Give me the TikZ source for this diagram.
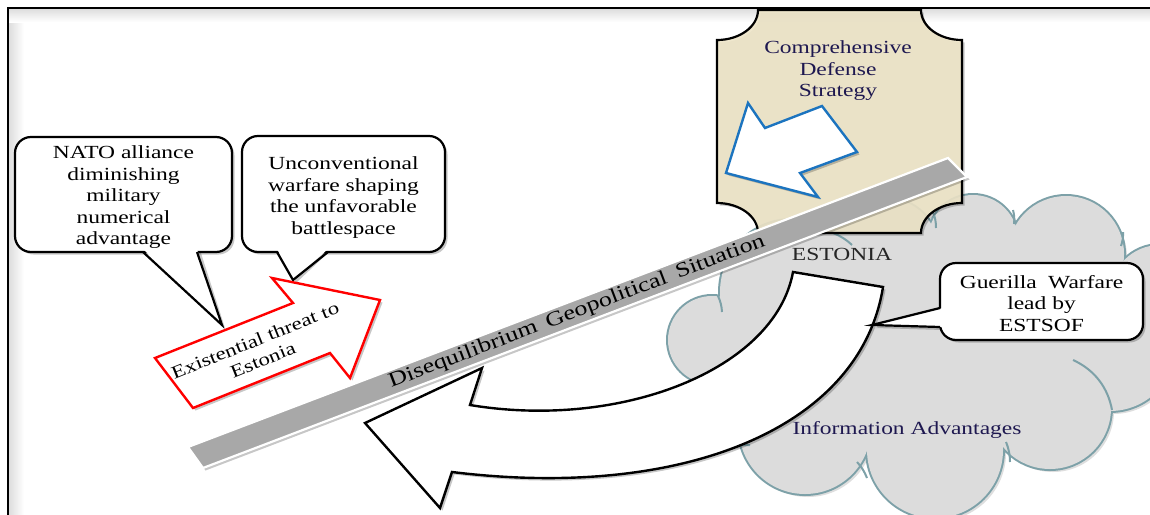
\documentclass[tikz,border=0pt]{standalone}
\usepackage{fontspec}
\setmainfont{Liberation Serif}[FakeStretch=1.27]
\usetikzlibrary{shadows}

\definecolor{cloudfill}{HTML}{DCDCDC}
\definecolor{cloudedge}{HTML}{7DA1A8}
\definecolor{plaquefill}{HTML}{EEE5C8}
\definecolor{navytext}{HTML}{1E1850}
\definecolor{bargray}{HTML}{A8A8A8}
\definecolor{arrowblue}{HTML}{1C74BF}
\definecolor{threatred}{HTML}{FF0000}

\begin{document}
\begin{tikzpicture}[x=1pt,y=-1pt,
  every node/.style={font=\fontsize{18.5}{21.5}\selectfont, align=center, inner sep=0pt},
  softshadow/.style={drop shadow={shadow xshift=2.5pt, shadow yshift=-2.5pt, opacity=0.22, fill=black}},
  tailshadow/.style={fill=black, opacity=0.22},
  calloutbox/.style={draw=black, line width=2.2pt, fill=white, rounded corners=16pt},
  callouttail/.style={draw=black, line width=2.2pt, line join=miter},
  cloudtick/.style={draw=cloudedge, line width=2pt},
  plaque/.style={draw=black, line width=2.2pt, fill=plaquefill, fill opacity=0.9},
  bigarrow/.style={line width=2.4pt, fill=white, line join=miter},
]
\useasboundingbox (0,0) rectangle (1150,514);
\clip (0,0) rectangle (1150,514);

% ---- page frame with its inner shade ----
\fill[white] (0,0) rectangle (1150,514);
\shade[left color=black!14, right color=white] (8,8) rectangle (24,520);
\shade[top color=black!14, bottom color=white] (8,8) rectangle (1160,22);
\draw[line width=2.4pt] (8,520) -- (8,8) -- (1160,8);

% ---- cloud: union of lobes ----
\def\lobes{712/340/44, 792/292/72, 885/252/54, 973/240/45, 1066/254/58,
  1160/295/50, 1110/345/66, 1050/408/61, 935/450/68, 805/428/66, 725/405/42}
\foreach \cx/\cy/\r in \lobes
  \fill[black!13] (\cx+3,\cy+3) circle[radius=\r];
\foreach \cx/\cy/\r in \lobes
  \draw[cloudedge, line width=4pt] (\cx,\cy) circle[radius=\r];
\fill[cloudfill] (712,340) -- (792,292) -- (885,252) -- (973,240) -- (1066,254)
  -- (1160,295) -- (1110,345) -- (1050,408) -- (935,450) -- (805,428) -- (725,405) -- cycle;
\foreach \cx/\cy/\r in \lobes
  \fill[cloudfill] (\cx,\cy) circle[radius=\r];
% inner strokes of the cloud
\draw[cloudtick] (718,296) to[bend left=10] (722,312);
\draw[cloudtick] (833,233) to[bend left=10] (852,245);
\draw[cloudtick] (933,212) to[bend left=10] (936,228);
\draw[cloudtick] (1013,210) to[bend left=10] (1014,224);
\draw[cloudtick] (1123,232) to[bend left=10] (1121,246);
\draw[cloudtick] (1073,360) .. controls (1095,370) and (1108,388) .. (1112,410);
\draw[cloudtick] (1006,442) to[bend left=10] (1010,462);
\draw[cloudtick] (857,462) to[bend left=10] (867,478);
\draw[cloudtick] (727,449) to[bend left=10] (750,445);

% ---- comprehensive defense plaque ----
\draw[plaque, softshadow] (758,10) -- (921,10)
  arc[start angle=180, end angle=90, x radius=41, y radius=30] -- (962,203)
  arc[start angle=270, end angle=180, x radius=41, y radius=30] -- (758,233)
  arc[start angle=0, end angle=-90, x radius=41, y radius=30] -- (717,40)
  arc[start angle=90, end angle=0, x radius=41, y radius=30] -- cycle;
\node[text=navytext] (strategy) at (838,71) {Comprehensive\\Defense\\Strategy};
\draw[bigarrow, draw=arrowblue, softshadow] (748,103) -- (765,128) -- (822,106)
  -- (857,152) -- (800,173) -- (818,197) -- (726,173) -- cycle;

% ---- diagonal bar ----
\draw[fill=bargray, draw=white, line width=2.2pt, softshadow]
  (188,447) -- (203,468) -- (967,177) -- (948,158) -- cycle;
\node[rotate=20.8, font=\fontsize{20.5}{24}\selectfont] (situation) at (577,312)
  {Disequilibrium\hspace{0.5em}Geopolitical\hspace{0.5em}Situation};

\node[text=black!85] (estonia) at (842,254) {ESTONIA};
\node[text=navytext] (info) at (907,430) {Information Advantages};

% ---- curved return arrow ----
\draw[bigarrow, softshadow] (793,272) .. controls (775,370) and (620,430) .. (470,405)
  -- (482,368) -- (365,423) -- (440,508) -- (452,472)
  .. controls (680,500) and (860,430) .. (883,287) -- cycle;

% ---- guerilla warfare callout ----
\fill[tailshadow] (943,311) -- (875,328) -- (943,330) -- cycle;
\draw[calloutbox, softshadow] (940,263) rectangle (1143,340);
\fill[white] (943,308) -- (872,325) -- (943,327) -- cycle;
\draw[callouttail] (940,308) -- (872,325) -- (940,327);
\node (guerilla) at (1041.5,303.5) {Guerilla\hspace{0.3em} Warfare\\lead by\\ESTSOF};

% ---- NATO callout ----
\fill[tailshadow] (146,250) -- (225,328) -- (200,250) -- cycle;
\draw[calloutbox, softshadow] (15,137) rectangle (232,252);
\fill[white] (143,249) -- (222,325) -- (197,249) -- cycle;
\draw[callouttail] (143,252) -- (222,325) -- (197,252);
\node (nato) at (123.5,197.5) {NATO alliance\\diminishing\\military\\numerical\\advantage};

% ---- unconventional warfare callout ----
\fill[tailshadow] (280,250) -- (296,283) -- (331,250) -- cycle;
\draw[calloutbox, softshadow] (242,136) rectangle (445,252);
\fill[white] (277,249) -- (293,280) -- (328,249) -- cycle;
\draw[callouttail] (277,252) -- (293,280) -- (328,252);
\node (unconv) at (343.5,197.5) {Unconventional\\warfare shaping\\the unfavorable\\battlespace};

% ---- existential threat arrow ----
\draw[bigarrow, draw=threatred, softshadow] (155,358) -- (193,408) -- (330,353)
  -- (350,378) -- (380,300) -- (272,278) -- (293,303) -- cycle;
\node[rotate=22, font=\fontsize{18}{21}\selectfont] (threat) at (259,350)
  {Existential threat to\\Estonia};
\end{tikzpicture}
\end{document}
